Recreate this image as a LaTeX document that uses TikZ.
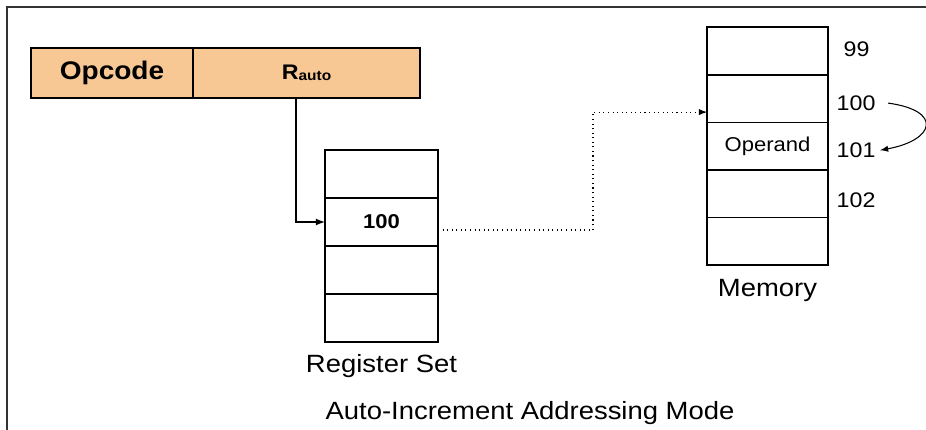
\documentclass[tikz,border=0pt]{standalone}
\usepackage{fontspec}
\setmainfont{Liberation Sans}[FakeStretch=1.1]
\usetikzlibrary{arrows,positioning}
\definecolor{opfill}{RGB}{247,199,148}

\begin{document}
\begin{tikzpicture}
[>=latex, line width=0.8pt,
% STYLES
% The field style is used to draw the fields of the instruction
field/.style={rectangle, draw, fill=opfill, minimum height=1cm, inner sep=0pt, outer sep=0pt, font=\bfseries\fontsize{14.5}{17}\selectfont},
% The reg style is used to draw the cells of the register set
reg/.style={rectangle, draw, minimum width=2.26cm, minimum height=0.96cm, inner sep=0pt, outer sep=0pt, font=\bfseries\fontsize{11.4}{13}\selectfont},
% The cell style is used to draw the memory words
cell/.style={rectangle, draw, minimum width=2.42cm, minimum height=0.952cm, inner sep=0pt, outer sep=0pt, font=\fontsize{11.4}{13}\selectfont},
addr/.style={inner sep=0pt, font=\fontsize{12}{14}\selectfont},
caption/.style={font=\fontsize{14.2}{17}\selectfont}]

\useasboundingbox (0,0) rectangle (18.52,-8.6);
\draw[line width=1pt, black!80] (0.14,-8.6) |- (18.52,-0.14);

% Draw instruction
\node [field, minimum width=3.24cm] (opcode) at (2.24,-1.46) {Opcode};
\node [field, minimum width=4.54cm, right=0pt of opcode, font=\bfseries\fontsize{12}{14}\selectfont] (rauto) {R\raisebox{-0.5pt}{\fontsize{8}{9}\selectfont auto}};

% Draw register set
\node [reg] (reg1) at (7.63,-3.48) {};
\node [reg, below=0pt of reg1] (reg2) {100};
\node [reg, below=0pt of reg2] (reg3) {};
\node [reg, below=0pt of reg3] (reg4) {};
\node [caption, below=0.12cm of reg4] (regset) {Register Set};

% Draw memory
\node [cell] (mem1) at (15.35,-1.02) {};
\node [cell, below=0pt of mem1] (mem2) {};
\node [cell, below=0pt of mem2] (mem3) {Operand};
\node [cell, below=0pt of mem3] (mem4) {};
\node [cell, below=0pt of mem4] (mem5) {};
\node [caption, below=0.16cm of mem5] (memory) {Memory};

% ADDRESSES
\node [addr, right=0.3cm of mem1, yshift=0.04cm] (a99) {99};
\node [addr, right=0.16cm of mem2, yshift=-0.09cm] (a100) {100};
\node [addr, right=0.16cm of mem3, yshift=-0.08cm] (a101) {101};
\node [addr, right=0.16cm of mem4, yshift=-0.12cm] (a102) {102};

\node [caption] (title) at (10.6,-8.26) {Auto-Increment Addressing Mode};

% Draw the links
\draw[->] ([xshift=-0.21cm]rauto.south) |- (reg2.west);
\draw[->, dotted, line width=0.6pt] ([yshift=-0.16cm]reg2.east) -- ++(3.1,0) |- ([yshift=-0.27cm]mem2.west);
\draw[->, line width=0.6pt] ([xshift=0.24cm]a100.east) .. controls +(1.1,-0.15) and +(1.1,0.2) .. ([xshift=0.08cm]a101.east);

\end{tikzpicture}
\end{document}
